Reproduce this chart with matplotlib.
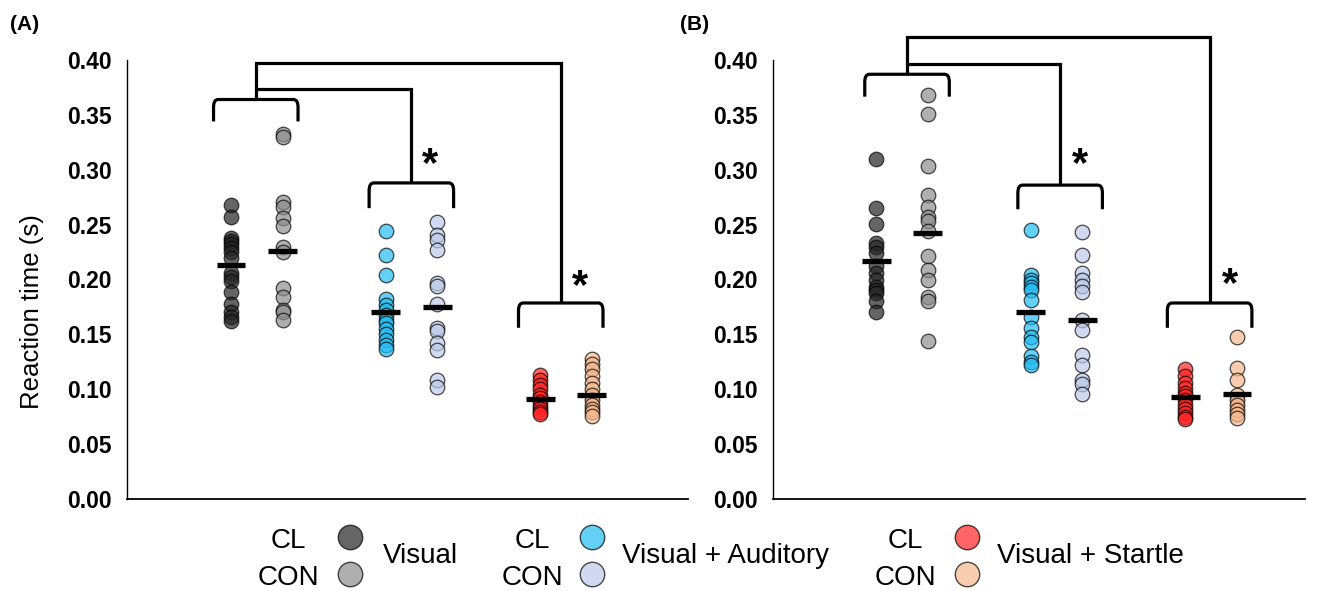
import matplotlib
matplotlib.use('agg')
import matplotlib.pyplot as plt
from matplotlib.path import Path
from matplotlib.patches import PathPatch
import numpy as np

plt.rcParams['font.family'] = ['Liberation Sans', 'DejaVu Sans']

# reaction times (s), panel A
a_vis_cl = [0.268, 0.257, 0.238, 0.235, 0.232, 0.229, 0.225, 0.220, 0.206,
            0.202, 0.199, 0.189, 0.178, 0.170, 0.166, 0.162]
a_vis_con = [0.333, 0.330, 0.271, 0.266, 0.256, 0.249, 0.230, 0.225, 0.192,
             0.184, 0.172, 0.170, 0.163]
a_va_cl = [0.244, 0.222, 0.204, 0.182, 0.177, 0.172, 0.168, 0.163, 0.160,
           0.155, 0.150, 0.145, 0.140, 0.137]
a_va_con = [0.252, 0.241, 0.236, 0.227, 0.197, 0.194, 0.178, 0.156, 0.153,
            0.142, 0.136, 0.108, 0.102]
a_vs_cl = [0.113, 0.108, 0.104, 0.100, 0.095, 0.092, 0.088, 0.085, 0.082,
           0.079, 0.077]
a_vs_con = [0.128, 0.123, 0.118, 0.112, 0.106, 0.100, 0.095, 0.090, 0.086,
            0.082, 0.079, 0.076]
a_means = [0.213, 0.226, 0.170, 0.175, 0.091, 0.095]

# panel B
b_vis_cl = [0.310, 0.265, 0.251, 0.233, 0.230, 0.224, 0.212, 0.206, 0.200,
            0.193, 0.190, 0.188, 0.180, 0.170]
b_vis_con = [0.368, 0.351, 0.303, 0.277, 0.266, 0.257, 0.253, 0.244, 0.221,
             0.209, 0.200, 0.184, 0.180, 0.144]
b_va_cl = [0.245, 0.204, 0.200, 0.197, 0.193, 0.190, 0.181, 0.166, 0.156,
           0.148, 0.143, 0.130, 0.125, 0.122]
b_va_con = [0.243, 0.222, 0.206, 0.200, 0.194, 0.189, 0.163, 0.154, 0.131,
            0.122, 0.108, 0.105, 0.096]
b_vs_cl = [0.118, 0.112, 0.106, 0.101, 0.097, 0.094, 0.090, 0.086, 0.082,
           0.078, 0.075, 0.073]
b_vs_con = [0.148, 0.119, 0.108, 0.095, 0.090, 0.086, 0.081, 0.077, 0.074]
b_means = [0.217, 0.242, 0.170, 0.163, 0.093, 0.096]

conditions = ['Visual', 'Visual + Auditory', 'Visual + Startle']
groups = ['CL', 'CON']
# CL / CON colour for each condition
colors = ['#242424', '#8e8e8e', '#24bcf1', '#bccae9', '#ff2424', '#f5b78e']
positions = [1, 2, 4, 5, 7, 8]

yticks = np.arange(0, 0.401, 0.05)

fig = plt.figure(figsize=(13.25, 5.91), dpi=100)
W, H = 1325, 591


def bracket(ax, xc, y_top, y_bot, half=0.82):
    x0, x1 = xc - half, xc + half
    rx, ry = 0.09, 0.007
    verts = [(x0, y_bot), (x0, y_top - ry), (x0, y_top), (x0 + rx, y_top),
             (x1 - rx, y_top), (x1, y_top), (x1, y_top - ry), (x1, y_bot)]
    codes = [Path.MOVETO, Path.LINETO, Path.CURVE3, Path.CURVE3,
             Path.LINETO, Path.CURVE3, Path.CURVE3, Path.LINETO]
    ax.add_patch(PathPatch(Path(verts, codes), fill=False, lw=2.3,
                           color='black', clip_on=False))


def line(ax, xs, ys):
    ax.plot(xs, ys, color='black', lw=2.3, clip_on=False,
            solid_joinstyle='miter', solid_capstyle='butt')


def panel(rect, xlim, series, means, centers, levels, stars):
    ax = fig.add_axes(rect)
    for x, vals, c in zip(positions, series, colors):
        ax.scatter([x] * len(vals), vals, s=110, color=c, alpha=0.7,
                   edgecolors='black', linewidths=0.9, zorder=3,
                   clip_on=False)
    for x, m in zip(positions, means):
        ax.plot([x - 0.28, x + 0.28], [m, m], color='black', lw=3.8,
                solid_capstyle='butt', zorder=4)

    c1, c2, c3 = centers
    vis_top, vis_bot, mid, top, va_top, va_bot, vs_top, vs_bot = levels
    bracket(ax, c1, vis_top, vis_bot)
    bracket(ax, c2, va_top, va_bot)
    bracket(ax, c3, vs_top, vs_bot)
    line(ax, [c1, c1, c3, c3], [vis_top, top, top, vs_top])
    line(ax, [c1, c2, c2], [mid, mid, va_top])
    for sx, sy in stars:
        ax.text(sx, sy, '*', fontsize=30, fontweight='bold',
                ha='center', va='center')

    ax.set_xlim(*xlim)
    ax.set_ylim(0, 0.40)
    ax.set_yticks(yticks)
    ax.set_yticklabels([f'{v:.2f}' for v in yticks])
    ax.set_xticks([])
    ax.tick_params(axis='y', length=0, pad=11, labelsize=16.5)
    for lab in ax.get_yticklabels():
        lab.set_fontweight('bold')
    for side in ['top', 'right']:
        ax.spines[side].set_visible(False)
    ax.spines['left'].set_linewidth(1.0)
    ax.spines['bottom'].set_linewidth(1.3)
    return ax


bottom = 1 - 499 / H
height = (499 - 60) / H

panel([127 / W, bottom, (688 - 127) / W, height], (-1.02, 9.87),
      [a_vis_cl, a_vis_con, a_va_cl, a_va_con, a_vs_cl, a_vs_con], a_means,
      (1.48, 4.5, 7.4),
      [0.364, 0.344, 0.374, 0.397, 0.288, 0.265, 0.1786, 0.156],
      [(4.86, 0.304), (7.78, 0.193)])

panel([773 / W, bottom, (1305 - 773) / W, height], (-1.0, 9.32),
      [b_vis_cl, b_vis_con, b_va_cl, b_va_con, b_vs_cl, b_vs_con], b_means,
      (1.6, 4.57, 7.47),
      [0.387, 0.3666, 0.396, 0.4207, 0.286, 0.264, 0.1786, 0.156],
      [(4.96, 0.304), (7.86, 0.195)])

fig.text(32 / W, 1 - 312 / H, 'Reaction time (s)', rotation=90,
         fontsize=18.5, ha='center', va='center')
fig.text(10 / W, 1 - 25 / H, '(A)', fontsize=15, fontweight='bold',
         va='center')
fig.text(680 / W, 1 - 25 / H, '(B)', fontsize=15, fontweight='bold',
         va='center')

# legend drawn in pixel space
leg = fig.add_axes([0, 0, 1, 1])
leg.set_xlim(0, W)
leg.set_ylim(H, 0)
leg.axis('off')
text_x = [288, 532, 905]
circle_x = [350, 592, 967]
label_x = [383, 622, 997]
for i, cond in enumerate(conditions):
    for j, g in enumerate(groups):
        ty = [541, 578][j]
        cy = [537, 574][j]
        leg.text(text_x[i], ty, g, fontsize=20, ha='center', va='center')
        leg.scatter([circle_x[i]], [cy], s=310, color=colors[2 * i + j],
                    alpha=0.7, edgecolors='black', linewidths=1.0)
    leg.text(label_x[i], 556, cond, fontsize=20, ha='left', va='center')

plt.savefig('out.png', dpi=100)
plt.close()
